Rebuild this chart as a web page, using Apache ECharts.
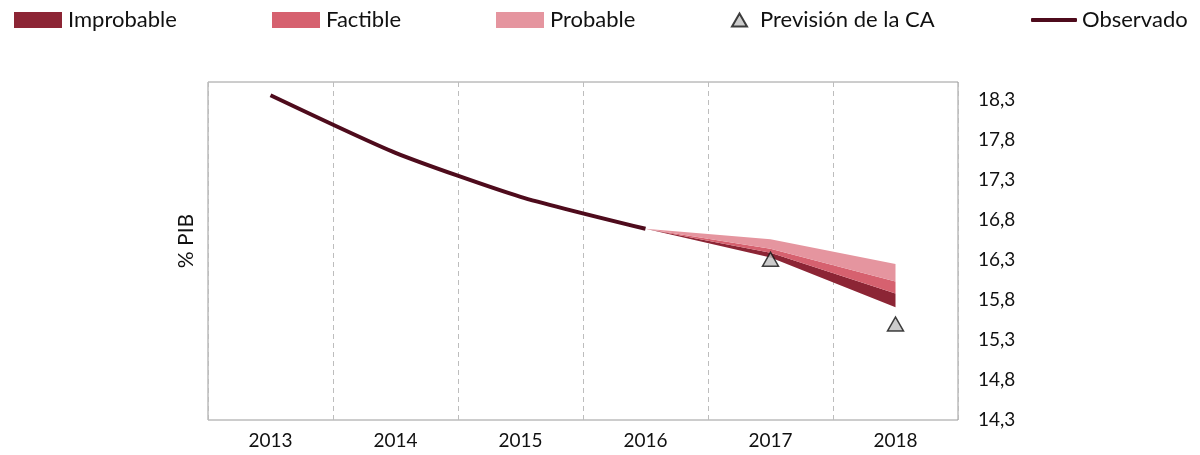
<!DOCTYPE html>
<html>
<head>
<meta charset="utf-8">
<script src="https://cdn.jsdelivr.net/npm/echarts@6/dist/echarts.min.js"></script>
<style>html,body{margin:0;padding:0;background:#fff}#c{width:1200px;height:455px}</style>
</head>
<body>
<div id="c"></div>
<script>
const years = ['2013','2014','2015','2016','2017','2018'];
const observed = [18.36, 17.64, 17.09, 16.69, null, null];
const fanBottom = [null, null, null, 16.69, 16.33, 15.71];
const improbableTop = [null, null, null, 16.69, 16.39, 15.88];
const factibleTop = [null, null, null, 16.69, 16.44, 16.03];
const probableTop = [null, null, null, 16.69, 16.56, 16.25];
const forecastCA = [null, null, null, null, 16.31, 15.50];
const yMin = 14.3, yStep = 0.5;

const diff = (a, b) => a.map((v, i) => (v == null || b[i] == null) ? null : +(v - b[i]).toFixed(4));

const FONT = 'Lato';
const cImp = '#8c2535', cFac = '#d6616f', cPro = '#e5959f', cObs = '#4e0b1c';

const chart = echarts.init(document.getElementById('c'), null, {renderer: 'canvas'});
const legendText = {fontFamily: FONT, fontSize: 22, color: '#111', padding: [0, 0, 0, 1]};
const legendBase = {top: 4, itemHeight: 16, itemWidth: 48, icon: 'rect', textStyle: legendText};
chart.setOption({
  animation: false,
  textStyle: {fontFamily: FONT},
  grid: {left: 208, right: 242, top: 82, bottom: 35, show: true, borderColor: '#9a9a9a', borderWidth: 1},
  legend: [
    Object.assign({}, legendBase, {left: 9, data: ['Improbable']}),
    Object.assign({}, legendBase, {left: 267, data: ['Factible']}),
    Object.assign({}, legendBase, {left: 491, data: ['Probable']}),
    Object.assign({}, legendBase, {left: 726, itemWidth: 15, itemHeight: 13, icon: 'triangle', textStyle: Object.assign({}, legendText, {padding: [0, 0, 0, 8]}), data: ['Previsión de la CA']}),
    Object.assign({}, legendBase, {left: 1026, itemWidth: 46, itemHeight: 4, icon: 'roundRect', textStyle: Object.assign({}, legendText, {padding: 0}), data: ['Observado']})
  ],
  graphic: [{
    type: 'text', rotation: Math.PI / 2,
    style: {text: '% PIB', fontFamily: FONT, fontSize: 21, fill: '#111', align: 'center', verticalAlign: 'middle'},
    x: 186, y: 241
  }],
  xAxis: {
    type: 'category', data: years, boundaryGap: true,
    axisLine: {show: false}, axisTick: {show: false},
    axisLabel: {fontFamily: FONT, fontSize: 19, color: '#111', margin: 11},
    splitLine: {show: true, lineStyle: {type: [5, 4], color: '#bdbdbd', width: 1}}
  },
  yAxis: {
    type: 'value', position: 'right', min: yMin, max: 18.525, interval: yStep,
    axisLine: {show: false}, axisTick: {show: false}, splitLine: {show: false},
    axisLabel: {
      fontFamily: FONT, fontSize: 19, color: '#111', margin: 20,
      showMaxLabel: false,
      formatter: v => {
        const k = (v - yMin) / yStep;
        return Math.abs(k - Math.round(k)) < 1e-6 ? v.toFixed(1).replace('.', ',') : '';
      }
    }
  },
  series: [
    {name: 'base', type: 'line', stack: 'fan', data: fanBottom, symbol: 'none', lineStyle: {width: 0}, areaStyle: {opacity: 0}, silent: true, z: 2},
    {name: 'Improbable', type: 'line', stack: 'fan', data: diff(improbableTop, fanBottom), symbol: 'none', lineStyle: {width: 0}, itemStyle: {color: cImp}, areaStyle: {color: cImp, opacity: 1}, z: 2},
    {name: 'Factible', type: 'line', stack: 'fan', data: diff(factibleTop, improbableTop), symbol: 'none', lineStyle: {width: 0}, itemStyle: {color: cFac}, areaStyle: {color: cFac, opacity: 1}, z: 2},
    {name: 'Probable', type: 'line', stack: 'fan', data: diff(probableTop, factibleTop), symbol: 'none', lineStyle: {width: 0}, itemStyle: {color: cPro}, areaStyle: {color: cPro, opacity: 1}, z: 2},
    {name: 'Observado', type: 'line', data: observed, symbol: 'none', smooth: 0.2, itemStyle: {color: cObs}, lineStyle: {color: cObs, width: 4}, z: 3},
    {name: 'Previsión de la CA', type: 'scatter', data: forecastCA, symbol: 'triangle', symbolSize: [16, 14],
     itemStyle: {color: '#bfbfbf', borderColor: '#111', borderWidth: 1.5}, z: 5}
  ]
});
</script>
</body>
</html>
